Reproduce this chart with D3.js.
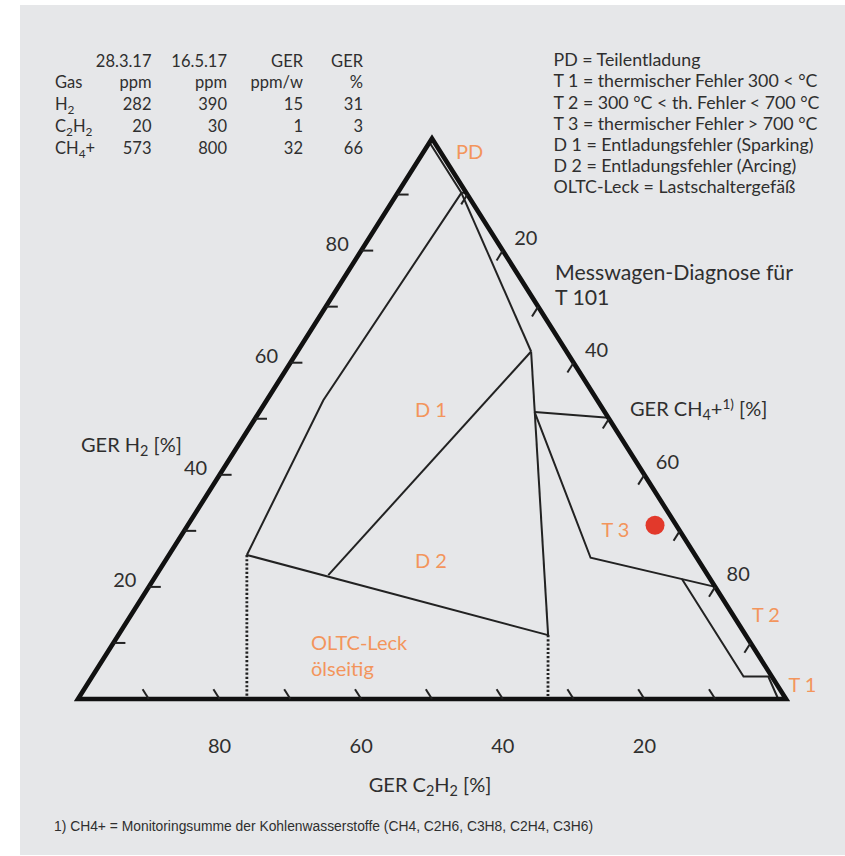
<!DOCTYPE html>
<html><head><meta charset="utf-8">
<script src="https://cdn.jsdelivr.net/npm/d3@7"></script>
<style>
html,body{margin:0;padding:0;background:#fff;}
svg{display:block;}
text{font-family:Lato,"Noto Sans",sans-serif;fill:#2f2f2f;}
</style></head><body>
<svg id="c" width="845" height="856"></svg>
<script>
// ---------------- data ----------------
// measurement table
const tableHeadDates = ["28.3.17", "16.5.17", "GER", "GER"];
const tableHeadUnits = ["ppm", "ppm", "ppm/w", "%"];
const gasLabels = ["H_2", "C_2H_2", "CH_4+"];
const ppm_28_3_17 = [282, 20, 573];
const ppm_16_5_17 = [390, 30, 800];
const gerPpmPerWeek = [15, 1, 32];
const gerPercent = [31, 3, 66];           // H2, C2H2, CH4+  -> plotted point

// legend
const legendLines = [
  "PD = Teilentladung",
  "T 1 = thermischer Fehler 300 < °C",
  "T 2 = 300 °C < th. Fehler < 700 °C",
  "T 3 = thermischer Fehler > 700 °C",
  "D 1 = Entladungsfehler (Sparking)",
  "D 2 = Entladungsfehler (Arcing)",
  "OLTC-Leck = Lastschaltergefäß"
];

// axis ticks (percent)
const tickValues = [10, 20, 30, 40, 50, 60, 70, 80, 90];
const tickLabelValues = [20, 40, 60, 80];

// zone boundaries, ternary points [H2 %, C2H2 %, CH4+ %]
const pdBoundary   = [[99.3, 0.7, 0], [90.3, 0.7, 9.0], [90.3, 0, 9.7]];
const d1Right      = [[90.3, 0.7, 9.0], [62, 5, 33]];
const d1Left       = [[90.3, 0.7, 9.0], [53.3, 38.7, 8], [25.7, 63.3, 11]];
const d2Bottom     = [[25.7, 63.3, 11], [11.4, 27.9, 60.7]];
const d1d2Divider  = [[62, 5, 33], [22.1, 53.6, 24.3]];
const d2Right      = [[62, 5, 33], [11.4, 27.9, 60.7]];
const t3Top        = [[51.2, 9.9, 38.9], [50.2, 0, 49.8]];
const t3Left       = [[51.2, 9.9, 38.9], [25.2, 15, 59.8], [20, 0, 80]];
const t2Left       = [[21.4, 4, 74.6], [4, 4, 92], [4, 0.5, 95.5], [0, 1.1, 98.9]];
const oltcLeft     = [[25.7, 63.3, 11], [0, 76.15, 23.85]];
const oltcRight    = [[11.4, 27.9, 60.7], [0, 33.62, 66.38]];

// ---------------- drawing ----------------
const svg = d3.select("#c");
const W = 845, H = 856;
const INK = "#222", ORANGE = "#f3955c", TXT = "#2f2f2f";

svg.append("rect").attr("x", 20).attr("y", 5).attr("width", W - 20).attr("height", H - 6)
  .attr("fill", "#e6e7e9");

// ternary scales: x from (CH4+ + H2/2), y from H2
const xs = d3.scaleLinear().domain([0, 100]).range([78, 786]);
const ys = d3.scaleLinear().domain([0, 100]).range([699, 138.5]);
const P = d => [xs(d[2] + d[0] / 2), ys(d[0])];
const line = d3.line().x(d => P(d)[0]).y(d => P(d)[1]);

// rich text helper: "_x" => subscript char, "^xx^" => superscript
function rich(sel, str) {
  const re = /(_.)|(\^[^^]*\^)|([^_^]+)/g;
  let m, shift = 0;
  while ((m = re.exec(str)) !== null) {
    const t = sel.append("tspan");
    if (m[1]) {
      t.text(m[1].slice(1)).attr("font-size", "72%").attr("dy", (4 - shift) + "px"); shift = 4;
    } else if (m[2]) {
      t.text(m[2].slice(1, -1)).attr("font-size", "68%").attr("dy", (-7 - shift) + "px"); shift = -7;
    } else {
      t.text(m[3]); if (shift) { t.attr("dy", (-shift) + "px"); shift = 0; }
    }
  }
  return sel;
}

// zone boundary lines
const zoneLines = [pdBoundary, d1Right, d1Left, d2Bottom, d1d2Divider, d2Right, t3Top, t3Left, t2Left];
svg.append("g").selectAll("path").data(zoneLines).join("path")
  .attr("d", line).attr("fill", "none").attr("stroke", INK).attr("stroke-width", 2)
  .attr("stroke-linejoin", "miter");

svg.append("g").selectAll("path").data([oltcLeft, oltcRight]).join("path")
  .attr("d", line).attr("fill", "none").attr("stroke", INK).attr("stroke-width", 2.8)
  .attr("stroke-dasharray", "2.2,2");

// outer triangle
svg.append("path")
  .attr("d", line([[100, 0, 0], [0, 100, 0], [0, 0, 100]]) + "Z")
  .attr("fill", "none").attr("stroke", "#111").attr("stroke-width", 4.6)
  .attr("stroke-linejoin", "miter").attr("stroke-miterlimit", 10);

// ticks
const tk = 1.75;
const tickSegs = [];
tickValues.forEach(v => {
  tickSegs.push([[v, 100 - v, 0], [v, 100 - v - 12 / 7.08, 12 / 7.08]]);   // H2 (left)
  tickSegs.push([[0, v, 100 - v], [tk, v, 100 - v - tk]]);                // C2H2 (bottom)
  tickSegs.push([[100 - v, 0, v], [100 - v - tk, tk, v]]);                // CH4+ (right)
});
svg.append("g").selectAll("path").data(tickSegs).join("path")
  .attr("d", line).attr("stroke", INK).attr("stroke-width", 2).attr("fill", "none");

// tick labels
const tl = svg.append("g").attr("font-size", 20).attr("fill", TXT);
tickLabelValues.forEach(v => {
  const L = P([v, 100 - v, 0]);
  tl.append("text").attr("x", L[0] - 24).attr("y", L[1] + 0.5).attr("text-anchor", "middle").text(v);
  const B = P([0, v, 100 - v]);
  tl.append("text").attr("x", B[0]).attr("y", 753).attr("text-anchor", "middle").text(v);
  const R = P([100 - v, 0, v]);
  tl.append("text").attr("x", R[0] + 23).attr("y", R[1] - 6).attr("text-anchor", "middle").text(v);
});

// axis titles
rich(svg.append("text").attr("x", 81).attr("y", 452).attr("font-size", 20), "GER H_2 [%]");
rich(svg.append("text").attr("x", 430).attr("y", 791.5).attr("font-size", 20).attr("text-anchor", "middle"), "GER C_2H_2 [%]");
rich(svg.append("text").attr("x", 630).attr("y", 416).attr("font-size", 20), "GER CH_4+^1)^ [%]");

svg.append("text").attr("x", 555).attr("y", 280).attr("font-size", 21.3).text("Messwagen-Diagnose für");
svg.append("text").attr("x", 555).attr("y", 305).attr("font-size", 21.3).text("T 101");

// zone labels
const zl = svg.append("g").attr("font-size", 20).attr("fill", ORANGE).style("fill", ORANGE);
[["PD", 469.5, 158.5], ["D 1", 431, 417], ["D 2", 431, 568], ["T 3", 615.5, 536.5],
 ["T 2", 766, 621.5], ["T 1", 802.5, 692]].forEach(([t, x, y]) =>
  zl.append("text").attr("x", x).attr("y", y).attr("text-anchor", "middle").style("fill", ORANGE).text(t));
zl.append("text").attr("x", 311).attr("y", 650).style("fill", ORANGE).text("OLTC-Leck");
zl.append("text").attr("x", 311).attr("y", 676).style("fill", ORANGE).text("ölseitig");

// measured point
const pt = P(gerPercent);
svg.append("circle").attr("cx", pt[0]).attr("cy", pt[1]).attr("r", 9.5).attr("fill", "#e2392b");

// table
const tb = svg.append("g").attr("font-size", 16.5);
const colX = [151.5, 227, 303, 363];
const rowY = [66.7, 88.3, 110, 131.7, 154.3];
tableHeadDates.forEach((t, i) => tb.append("text").attr("x", colX[i]).attr("y", rowY[0]).attr("text-anchor", "end").text(t));
tb.append("text").attr("x", 55).attr("y", rowY[1]).text("Gas");
tableHeadUnits.forEach((t, i) => tb.append("text").attr("x", colX[i]).attr("y", rowY[1]).attr("text-anchor", "end").text(t));
gasLabels.forEach((g, r) => {
  rich(tb.append("text").attr("x", 55).attr("y", rowY[r + 2]), g);
  [ppm_28_3_17, ppm_16_5_17, gerPpmPerWeek, gerPercent].forEach((arr, i) =>
    tb.append("text").attr("x", colX[i]).attr("y", rowY[r + 2]).attr("text-anchor", "end").text(arr[r]));
});

// legend
svg.append("g").attr("font-size", 17.8).selectAll("text").data(legendLines).join("text")
  .attr("x", 553.5).attr("y", (d, i) => 66.3 + i * 21.1).text(d => d);

// footnote
svg.append("text").attr("x", 54).attr("y", 831).attr("font-size", 13.85)
  .style("font-family", "'Liberation Sans Narrow','Arial Narrow',sans-serif")
  .text("1) CH4+ = Monitoringsumme der Kohlenwasserstoffe (CH4, C2H6, C3H8, C2H4, C3H6)");
</script>
</body></html>
